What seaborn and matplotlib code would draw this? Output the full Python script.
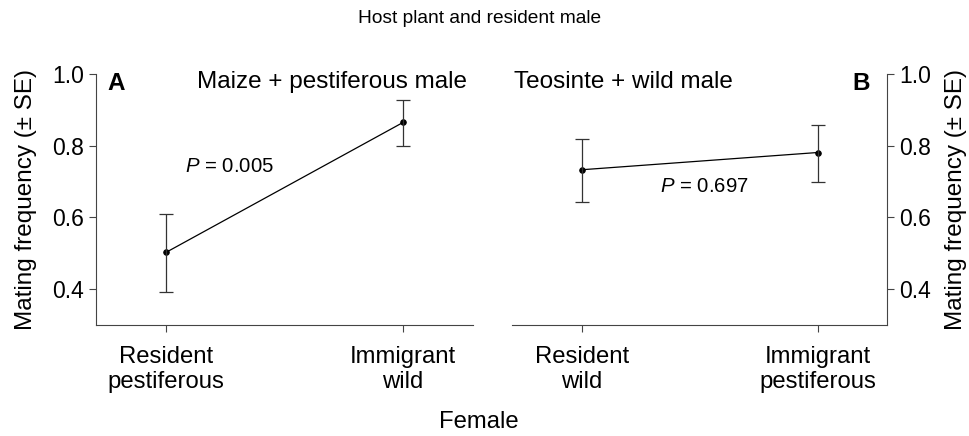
import numpy as np
import matplotlib.pyplot as plt
import seaborn as sns
import pandas as pd

sns.set_style("ticks")
plt.rcParams['font.family'] = ['Liberation Sans', 'DejaVu Sans']
plt.rcParams['mathtext.fontset'] = 'custom'
plt.rcParams['mathtext.rm'] = 'Liberation Sans'
plt.rcParams['mathtext.it'] = 'Liberation Sans:italic'
plt.rcParams['text.color'] = 'black'
plt.rcParams['axes.labelcolor'] = 'black'
plt.rcParams['xtick.labelcolor'] = 'black'
plt.rcParams['ytick.labelcolor'] = 'black'

# panel A: maize + pestiferous male
labels_a = ["Resident\npestiferous", "Immigrant\nwild"]
mean_a = [0.503, 0.865]
up_a = [0.610, 0.928]
low_a = [0.393, 0.798]
p_a = "0.005"

# panel B: teosinte + wild male
labels_b = ["Resident\nwild", "Immigrant\npestiferous"]
mean_b = [0.733, 0.781]
up_b = [0.819, 0.859]
low_b = [0.644, 0.698]
p_b = "0.697"

fig = plt.figure(figsize=(9.7, 4.36), dpi=100)
axA = fig.add_axes([0.099, 0.2546, 0.3886, 0.5757])
axB = fig.add_axes([0.528, 0.2546, 0.3864, 0.5757])


def panel(ax, labels, mean, up, low):
    df = pd.DataFrame({"female": labels, "freq": mean})
    sns.pointplot(data=df, x="female", y="freq", ax=ax, color="black",
                  errorbar=None, markersize=4, linewidth=0.9)
    m = np.array(mean)
    yerr = [m - np.array(low), np.array(up) - m]
    ax.errorbar([0, 1], m, yerr=yerr, fmt="none", ecolor="#333333",
                elinewidth=0.9, capsize=5, capthick=0.9)
    ax.set_xlim(-0.297, 1.295)
    ax.set_ylim(0.3, 1.0)
    ax.set_yticks([0.4, 0.6, 0.8, 1.0])
    ax.set_yticklabels(["0.4", "0.6", "0.8", "1.0"])
    ax.set_xlabel("")
    ax.set_ylabel("Mating frequency (± SE)", fontsize=17.5)
    ax.tick_params(axis="both", length=5, width=0.8, color="#444444")
    ax.tick_params(axis="y", labelsize=16.5)
    ax.tick_params(axis="x", labelsize=17.2, pad=10)
    for s in ax.spines.values():
        s.set_linewidth(0.8)
        s.set_color("#444444")


panel(axA, labels_a, mean_a, up_a, low_a)
panel(axB, labels_b, mean_b, up_b, low_b)

sns.despine(ax=axA)
axB.spines["left"].set_visible(False)
axB.spines["top"].set_visible(False)
axB.yaxis.tick_right()
axB.yaxis.set_label_position("right")
axB.spines["right"].set_visible(True)

axA.yaxis.set_label_coords(-0.156, 0.5)
axB.yaxis.set_label_coords(1.155, 0.5)

axA.text(0.03, 0.962, "A", transform=axA.transAxes, fontsize=17.5,
         fontweight="bold", va="center", ha="left")
axA.text(0.985, 0.97, "Maize + pestiferous male", transform=axA.transAxes,
         fontsize=17.5, va="center", ha="right")
axB.text(0.955, 0.962, "B", transform=axB.transAxes, fontsize=17.5,
         fontweight="bold", va="center", ha="right")
axB.text(0.005, 0.97, "Teosinte + wild male", transform=axB.transAxes,
         fontsize=17.5, va="center", ha="left")

axA.text(0.08, 0.742, r"$P$ = " + p_a, fontsize=14.7, ha="left", va="center")
axB.text(0.33, 0.686, r"$P$ = " + p_b, fontsize=14.7, ha="left", va="center")

fig.text(0.494, 0.958, "Host plant and resident male", fontsize=13.8,
         ha="center", va="center")
fig.text(0.494, 0.032, "Female", fontsize=17.2, ha="center", va="center")

fig.savefig("out.png", dpi=100)
